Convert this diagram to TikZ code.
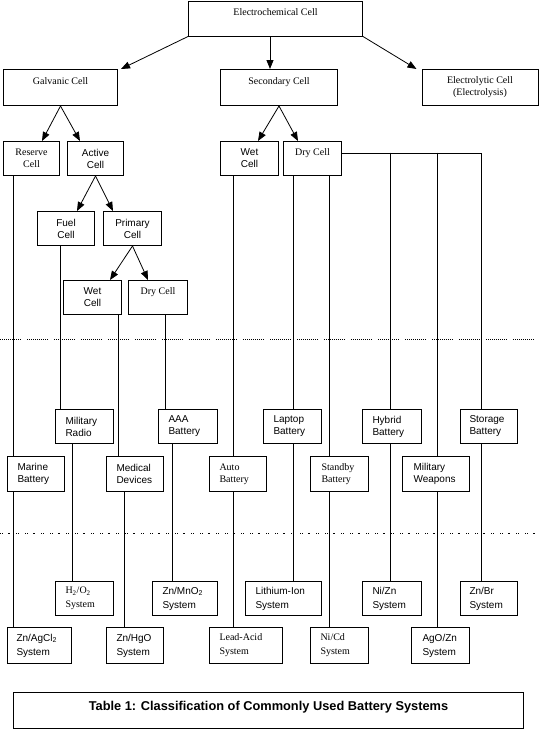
\documentclass[tikz,border=0pt]{standalone}
\usepackage{fontspec}
\setmainfont{Liberation Serif}
\setsansfont{Liberation Sans}
\usetikzlibrary{arrows.meta}
\begin{document}
\begin{tikzpicture}[x=1pt,y=-1pt,
  bx/.style={draw, line width=1pt, inner sep=0pt, anchor=north west},
  cs/.style={bx, align=center, font=\fontsize{10}{12}\selectfont},
  cf/.style={bx, align=center, font=\sffamily\fontsize{10}{12}\selectfont},
  ls/.style={bx, align=left, font=\fontsize{10}{12}\selectfont},
  lf/.style={bx, align=left, font=\sffamily\fontsize{10}{12}\selectfont},
  lsb/.style={bx, align=left, font=\fontsize{10}{14}\selectfont},
  lfb/.style={bx, align=left, font=\sffamily\fontsize{10}{14}\selectfont},
  arr/.style={-{Triangle[length=9pt,width=7pt]}, line width=0.8pt},
  ln/.style={line width=1pt},
  dotsa/.style={line width=1pt, dash pattern=on 1pt off 1pt on 1pt off 1pt on 1pt off 1pt on 1pt off 1pt on 1pt off 1pt on 1pt off 1pt on 1pt off 1pt on 1pt off 1pt on 1pt off 1pt on 1pt off 1pt on 1pt off 6pt},
  dotsb/.style={line width=1pt, dash pattern=on 1pt off 1pt on 1pt off 5pt on 2pt off 6pt on 1pt off 1pt on 1pt off 6pt}]
\useasboundingbox (0,0) rectangle (539,729);

% top level
\node[cs, minimum width=174pt, minimum height=35pt] (elec) at (188,0.5) {Electrochemical Cell\\\mbox{}};
\node[cs, minimum width=114pt, minimum height=36pt] (galv) at (3,69) {Galvanic Cell\\\mbox{}};
\node[cs, minimum width=117pt, minimum height=36pt] (sec) at (220,69) {Secondary Cell\\\mbox{}};
\node[cs, minimum width=116pt, minimum height=36pt] (elyt) at (421.5,69) {Electrolytic Cell\\(Electrolysis)};

\node[cs, minimum width=56pt, minimum height=34pt] (reserve) at (3,141) {Reserve\\Cell};
\node[cf, minimum width=56pt, minimum height=34pt] (active) at (67,141) {Active\\Cell};
\node[cf, minimum width=58pt, minimum height=34pt] (wetsec) at (220,141) {Wet\\Cell};
\node[cs, minimum width=58pt, minimum height=34pt] (drysec) at (283,141) {Dry Cell\\\mbox{}};

\node[cf, minimum width=57pt, minimum height=34pt] (fuel) at (37,211) {Fuel\\Cell};
\node[cf, minimum width=58pt, minimum height=34pt] (primary) at (103,211) {Primary\\Cell};
\node[cf, minimum width=58pt, minimum height=34pt] (wetpri) at (63,280) {Wet\\Cell};
\node[cs, minimum width=59pt, minimum height=34pt] (drypri) at (128,280) {Dry Cell\\\mbox{}};

% application boxes
\node[lf, minimum width=58pt, minimum height=34pt, text width=38pt] (milradio) at (55,409) {Military\\Radio};
\node[lf, minimum width=59pt, minimum height=34pt, text width=39pt] (aaa) at (158,409) {AAA\\Battery};
\node[lf, minimum width=58pt, minimum height=34pt, text width=38pt] (laptop) at (263,409) {Laptop\\Battery};
\node[lf, minimum width=59pt, minimum height=34pt, text width=39pt] (hybrid) at (362,409) {Hybrid\\Battery};
\node[lf, minimum width=57pt, minimum height=34pt, text width=39pt] (storage) at (460,409) {Storage\\Battery};

\node[lf, minimum width=57pt, minimum height=35pt, text width=37pt] (marine) at (7,456) {Marine\\Battery};
\node[lf, minimum width=57pt, minimum height=35pt, text width=37pt] (medical) at (106,456) {Medical\\Devices};
\node[ls, minimum width=57pt, minimum height=35pt, text width=37pt] (auto) at (209,456) {Auto\\Battery};
\node[ls, minimum width=58pt, minimum height=35pt, text width=36pt] (standby) at (310,456) {Standby\\Battery};
\node[lf, minimum width=67pt, minimum height=35pt, text width=45pt] (milweap) at (402,456) {Military\\Weapons};

% system boxes
\node[lsb, minimum width=58pt, minimum height=34pt, text width=38pt] (h2o2) at (55,581) {H\textsubscript{2}/O\textsubscript{2}\\System};
\node[lfb, minimum width=65pt, minimum height=34pt, text width=45pt] (znmno2) at (152,581) {Zn/MnO\textsubscript{2}\\System};
\node[lfb, minimum width=76pt, minimum height=34pt, text width=56pt] (lithium) at (245,581) {Lithium-Ion\\System};
\node[lfb, minimum width=59pt, minimum height=34pt, text width=39pt] (nizn) at (362,581) {Ni/Zn\\System};
\node[lfb, minimum width=57pt, minimum height=34pt, text width=39pt] (znbr) at (460,581) {Zn/Br\\System};

\node[lfb, minimum width=64pt, minimum height=36pt, text width=46pt] (znagcl) at (7,627) {Zn/AgCl\textsubscript{2}\\System};
\node[lfb, minimum width=57pt, minimum height=36pt, text width=37pt] (znhgo) at (106,627) {Zn/HgO\\System};
\node[lsb, minimum width=73pt, minimum height=36pt, text width=53pt] (leadacid) at (209,627) {Lead-Acid\\System};
\node[lsb, minimum width=58pt, minimum height=36pt, text width=38pt] (nicd) at (310,627) {Ni/Cd\\System};
\node[lfb, minimum width=58pt, minimum height=36pt, text width=36pt] (agozn) at (411,627) {AgO/Zn\\System};

% caption
\node[bx, minimum width=510pt, minimum height=36pt, font=\sffamily\bfseries\fontsize{12.8}{14}\selectfont, text height=9pt, text depth=9pt] (caption) at (13,692) {Table 1: Classification of Commonly Used Battery Systems};

% arrows
\draw[arr] (elec.south west) -- ([xshift=3pt]galv.north east);
\draw[arr] ([xshift=82pt]elec.south west) -- ([xshift=50pt]sec.north west);
\draw[arr] (elec.south east) -- ([xshift=-5pt]elyt.north west);
\draw[arr] (galv.south) -- ([xshift=39pt]reserve.north west);
\draw[arr] (galv.south) -- ([xshift=13pt]active.north west);
\draw[arr] (sec.south) -- ([xshift=38pt]wetsec.north west);
\draw[arr] (sec.south) -- ([xshift=15pt]drysec.north west);
\draw[arr] (active.south) -- ([xshift=40pt]fuel.north west);
\draw[arr] (active.south) -- ([xshift=10pt]primary.north west);
\draw[arr] (primary.south) -- ([xshift=47pt]wetpri.north west);
\draw[arr] (primary.south) -- ([xshift=20pt]drypri.north west);

% vertical links
\draw[ln] ([xshift=10pt]reserve.south west) -- ([xshift=6pt]marine.north west);
\draw[ln] ([xshift=6pt]marine.south west) -- ([xshift=6pt]znagcl.north west);
\draw[ln] ([xshift=23pt]fuel.south west) -- ([xshift=5pt]milradio.north west);
\draw[ln] ([xshift=17pt]milradio.south west) -- ([xshift=17pt]h2o2.north west);
\draw[ln] ([xshift=55pt]wetpri.south west) -- ([xshift=12pt]medical.north west);
\draw[ln] ([xshift=18pt]medical.south west) -- ([xshift=18pt]znhgo.north west);
\draw[ln] ([xshift=37pt]drypri.south west) -- ([xshift=7pt]aaa.north west);
\draw[ln] ([xshift=14pt]aaa.south west) -- ([xshift=20pt]znmno2.north west);
\draw[ln] ([xshift=13pt]wetsec.south west) -- ([xshift=24pt]auto.north west);
\draw[ln] ([xshift=24pt]auto.south west) -- ([xshift=24pt]leadacid.north west);
\draw[ln] ([xshift=10pt]drysec.south west) -- ([xshift=30pt]laptop.north west);
\draw[ln] ([xshift=30pt]laptop.south west) -- ([xshift=48pt]lithium.north west);
\draw[ln] ([xshift=46pt]drysec.south west) -- ([xshift=19pt]standby.north west);
\draw[ln] ([xshift=19pt]standby.south west) -- ([xshift=19pt]nicd.north west);
\draw[ln] ([yshift=-12pt]drysec.north east) -| ([xshift=21pt]storage.north west);
\coordinate (bh) at (390,152.5);
\coordinate (bw) at (437,152.5);
\draw[ln] (bh) -- ([xshift=28pt]hybrid.north west);
\draw[ln] ([xshift=28pt]hybrid.south west) -- ([xshift=28pt]nizn.north west);
\draw[ln] (bw) -- ([xshift=35pt]milweap.north west);
\draw[ln] ([xshift=35pt]milweap.south west) -- ([xshift=26pt]agozn.north west);
\draw[ln] ([xshift=21pt]storage.south west) -- ([xshift=21pt]znbr.north west);

% dotted separators
\coordinate (da) at (0,339);
\coordinate (db) at (539,339);
\coordinate (dc) at (0,533);
\coordinate (dd) at (539,533);
\draw[dotsa] (da) -- (db);
\draw[dotsb] (dc) -- (dd);
\end{tikzpicture}
\end{document}
